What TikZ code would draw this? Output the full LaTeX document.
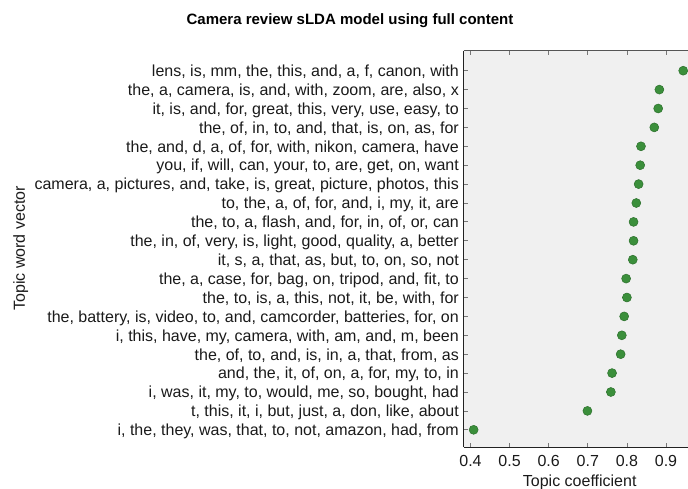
\documentclass[tikz,border=0pt]{standalone}
\usepackage{fontspec}
\setmainfont{Liberation Sans}
\definecolor{plotbg}{HTML}{F0F0F0}
\definecolor{dotfill}{HTML}{3B8F3B}
\definecolor{dotedge}{HTML}{2C702C}
\definecolor{axisdark}{HTML}{222222}
\definecolor{axistop}{HTML}{555555}
\definecolor{tickgray}{HTML}{777777}
\definecolor{txt}{HTML}{1A1A1A}
\begin{document}
\begin{tikzpicture}[x=1pt,y=1pt,
  rowlabel/.style={anchor=base east,inner sep=0pt,text=txt,font=\fontsize{16}{19}\selectfont},
  ticklabel/.style={anchor=base,inner sep=0pt,text=txt,font=\fontsize{16}{19}\selectfont},
  axlabel/.style={anchor=base,inner sep=0pt,text=txt,font=\fontsize{16}{19}\selectfont},
  titletext/.style={anchor=base,inner sep=0pt,text=black,font=\fontsize{15}{18}\selectfont\bfseries},
  dot/.style={circle,fill=dotfill,draw=dotedge,line width=0.5pt,minimum size=9pt,inner sep=0pt},
  tickmark/.style={draw=tickgray,line width=0.8pt}]
\useasboundingbox (0,0) rectangle (688,-489);
% plot area
\fill[plotbg] (463.7,-51) rectangle (688,-447.3);
\coordinate (tl) at (463.7,-51);
\coordinate (tr) at (688,-51);
\coordinate (bl) at (463.7,-447.3);
\coordinate (br) at (688,-447.3);
% x ticks
\foreach \v/\t in {0.4/0.4,0.5/0.5,0.6/0.6,0.7/0.7,0.8/0.8,0.9/0.9}{
  \pgfmathsetmacro{\xx}{470.5+(\v-0.4)*391}
  \draw[tickmark] (\xx,-447.3) -- (\xx,-443);
  \draw[tickmark] (\xx,-51) -- (\xx,-55.3);
  \node[ticklabel] (xt\t) at (\xx,-466.7) {\t};
}
% rows
\foreach \i/\v/\t in {
 1/0.944/{lens, is, mm, the, this, and, a, f, canon, with},
 2/0.883/{the, a, camera, is, and, with, zoom, are, also, x},
 3/0.880/{it, is, and, for, great, this, very, use, easy, to},
 4/0.870/{the, of, in, to, and, that, is, on, as, for},
 5/0.836/{the, and, d, a, of, for, with, nikon, camera, have},
 6/0.834/{you, if, will, can, your, to, are, get, on, want},
 7/0.830/{camera, a, pictures, and, take, is, great, picture, photos, this},
 8/0.824/{to, the, a, of, for, and, i, my, it, are},
 9/0.817/{the, to, a, flash, and, for, in, of, or, can},
 10/0.817/{the, in, of, very, is, light, good, quality, a, better},
 11/0.815/{it, s, a, that, as, but, to, on, so, not},
 12/0.798/{the, a, case, for, bag, on, tripod, and, fit, to},
 13/0.800/{the, to, is, a, this, not, it, be, with, for},
 14/0.793/{the, battery, is, video, to, and, camcorder, batteries, for, on},
 15/0.787/{i, this, have, my, camera, with, am, and, m, been},
 16/0.784/{the, of, to, and, is, in, a, that, from, as},
 17/0.762/{and, the, it, of, on, a, for, my, to, in},
 18/0.759/{i, was, it, my, to, would, me, so, bought, had},
 19/0.699/{t, this, it, i, but, just, a, don, like, about},
 20/0.408/{i, the, they, was, that, to, not, amazon, had, from}}{
  \pgfmathsetmacro{\yy}{-70.7-(\i-1)*18.9}
  \pgfmathsetmacro{\xx}{470.5+(\v-0.4)*391}
  \draw[tickmark] (463.7,\yy) -- (468,\yy);
  \node[rowlabel] (l\i) at (459,\yy-5.8) {\t};
  \node[dot] (d\i) at (\xx,\yy) {};
}
% axes
\draw[axistop,line width=1pt] (tl) -- (tr);
\draw[axisdark,line width=1.5pt] (tl) -- (bl);
\draw[axisdark,line width=1.5pt] (bl) -- (br);
% labels
\node[titletext] (title) at (350,-25) {Camera review sLDA model using full content};
\node[axlabel] (xlab) at (579.7,-486.5) {Topic coefficient};
\node[axlabel,rotate=90] (ylab) at (24.8,-248.5) {Topic word vector};
\end{tikzpicture}
\end{document}
